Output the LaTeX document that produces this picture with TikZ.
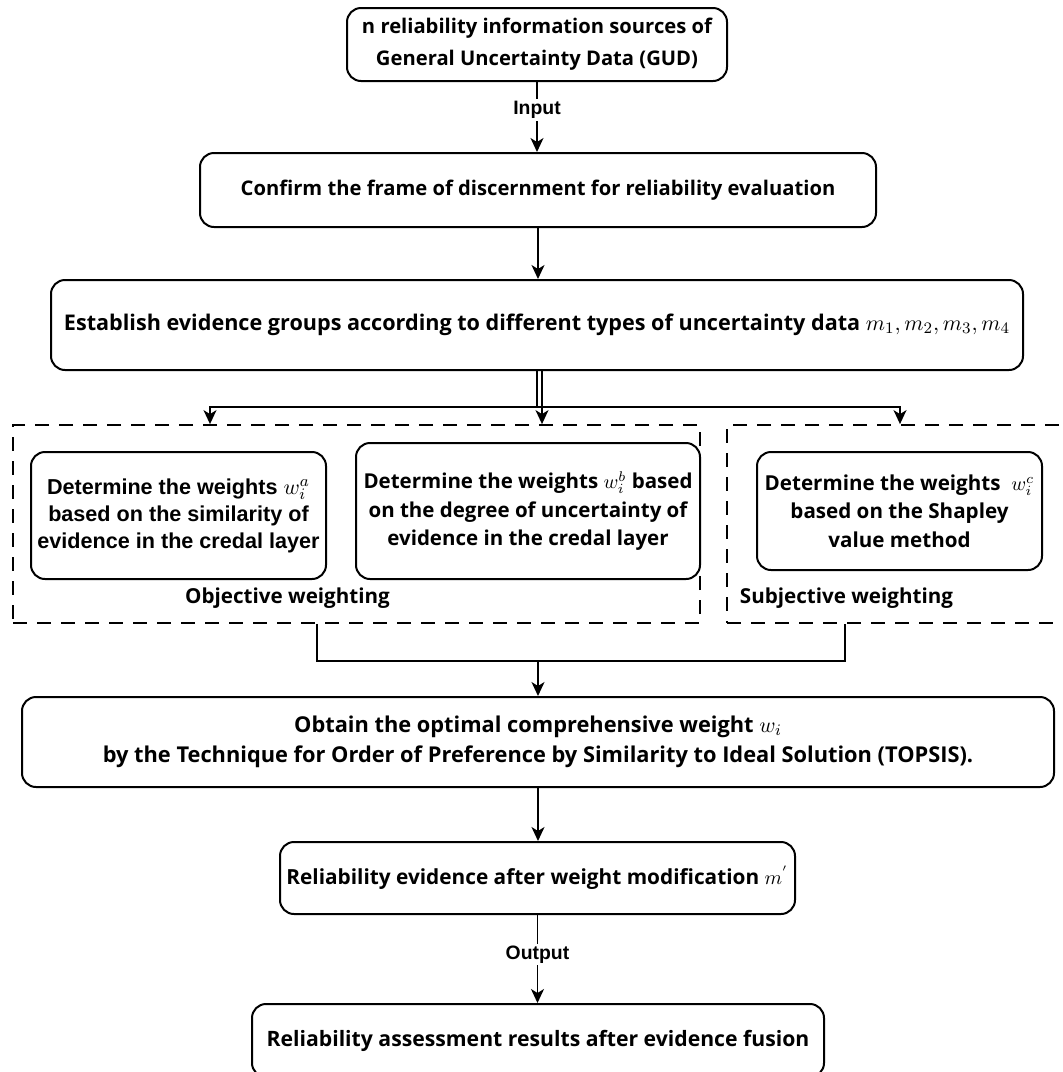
\documentclass[tikz,border=0pt]{standalone}
\usepackage{fontspec}
\setmainfont{Open Sans}
\newfontfamily\arialfont{Liberation Sans}
\usetikzlibrary{arrows.meta,positioning}

\begin{document}
\begin{tikzpicture}[x=0.5pt,y=-0.5pt]
\tikzset{box/.style = {draw, line width=1pt, rounded corners=7pt, inner sep=0pt, align=center, font=\bfseries\fontsize{10.1}{16}\selectfont},
  grp/.style = {draw, dash pattern=on 7pt off 5pt, line width=0.9pt, inner sep=0pt},
  grplbl/.style = {inner sep=0pt, font=\bfseries\fontsize{10.3}{12}\selectfont},
  lbl/.style = {fill=white, inner sep=1pt, font=\arialfont\bfseries\fontsize{9.7}{12}\selectfont},
  arr/.style = {line width=0.8pt, -{Stealth[length=7pt,width=6.5pt,inset=2pt]}}}
\useasboundingbox (0,0) rectangle (1062,1072);

\node[box, minimum width=190pt, minimum height=36.5pt] (src) at (537,44.5) {n reliability information sources of\\General Uncertainty Data (GUD)};
\node[box, minimum width=338pt, minimum height=37pt] (frame) at (538,190) {Confirm the frame of discernment for reliability evaluation};
\node[box, minimum width=486pt, minimum height=45pt, font=\bfseries\fontsize{10.8}{16}\selectfont] (groups) at (537,325) {Establish evidence groups according to different types of uncertainty data $m_1,m_2,m_3,m_4$};

\node[grp, minimum width=343.5pt, minimum height=99pt] (objgrp) at (356.5,524) {};
\node[grp, minimum width=171.5pt, minimum height=99pt] (subjgrp) at (898.5,524) {};
\node[box, font=\arialfont\bfseries\fontsize{10.8}{13.5}\selectfont, minimum width=147.5pt, minimum height=63.5pt] (wa) at (178.5,515.5) {Determine the weights $w_i^a$\\based on the similarity of\\evidence in the credal layer};
\node[box, font=\bfseries\fontsize{10.25}{14.2}\selectfont, minimum width=172pt, minimum height=68pt] (wb) at (528,511) {Determine the weights $w_i^b$ based\\on the degree of uncertainty of\\evidence in the credal layer};
\node[box, font=\bfseries\fontsize{10.3}{14.2}\selectfont, minimum width=142.5pt, minimum height=59pt] (wc) at (899.5,511) {Determine the weights~ $w_i^c$\\based on the Shapley\\value method};
\node[grplbl] (objlbl) at (287.5,598) {Objective weighting};
\node[grplbl, anchor=west] (subjlbl) at (739.5,598) {Subjective weighting};

\node[box, minimum width=516pt, minimum height=45pt, font=\bfseries\fontsize{10.9}{15}\selectfont] (comb) at (538,742) {Obtain the optimal comprehensive weight $w_i$\\by the Technique for Order of Preference by Similarity to Ideal Solution (TOPSIS).};
\node[box, minimum width=257.5pt, minimum height=36pt, font=\bfseries\fontsize{10.4}{16}\selectfont] (modif) at (537.5,878) {Reliability evidence after weight modification $m^{'}$};
\node[box, minimum width=286pt, minimum height=36.5pt, font=\bfseries\fontsize{10.6}{16}\selectfont] (result) at (538,1040.5) {Reliability assessment results after evidence fusion};

\coordinate (split) at (537,407);
\coordinate (splitB) at (542,407);
\coordinate (brA) at (210,407);
\coordinate (brC) at (900,407);
\coordinate (jnL) at (317,661);
\coordinate (jnR) at (845,661);

\draw[arr] (src) -- node[lbl, pos=0.4] {Input} (src |- frame.north);
\draw[arr] (frame) -- (frame |- groups.north);
\draw[line width=0.8pt] (groups.south) -- (split);
\draw[arr] (groups.south -| splitB) -- (splitB |- objgrp.north);
\draw[arr] (split) -- (brA) -- (brA |- objgrp.north);
\draw[arr] (split) -- (brC) -- (brC |- subjgrp.north);
\draw[line width=0.8pt] (jnL |- objgrp.south) -- (jnL) -- (jnR) -- (jnR |- subjgrp.south);
\draw[arr] (comb.north |- jnL) -- (comb.north);
\draw[arr] (comb) -- (comb |- modif.north);
\draw[arr] (modif) -- node[lbl, pos=0.45] {Output} (modif |- result.north);
\end{tikzpicture}
\end{document}
